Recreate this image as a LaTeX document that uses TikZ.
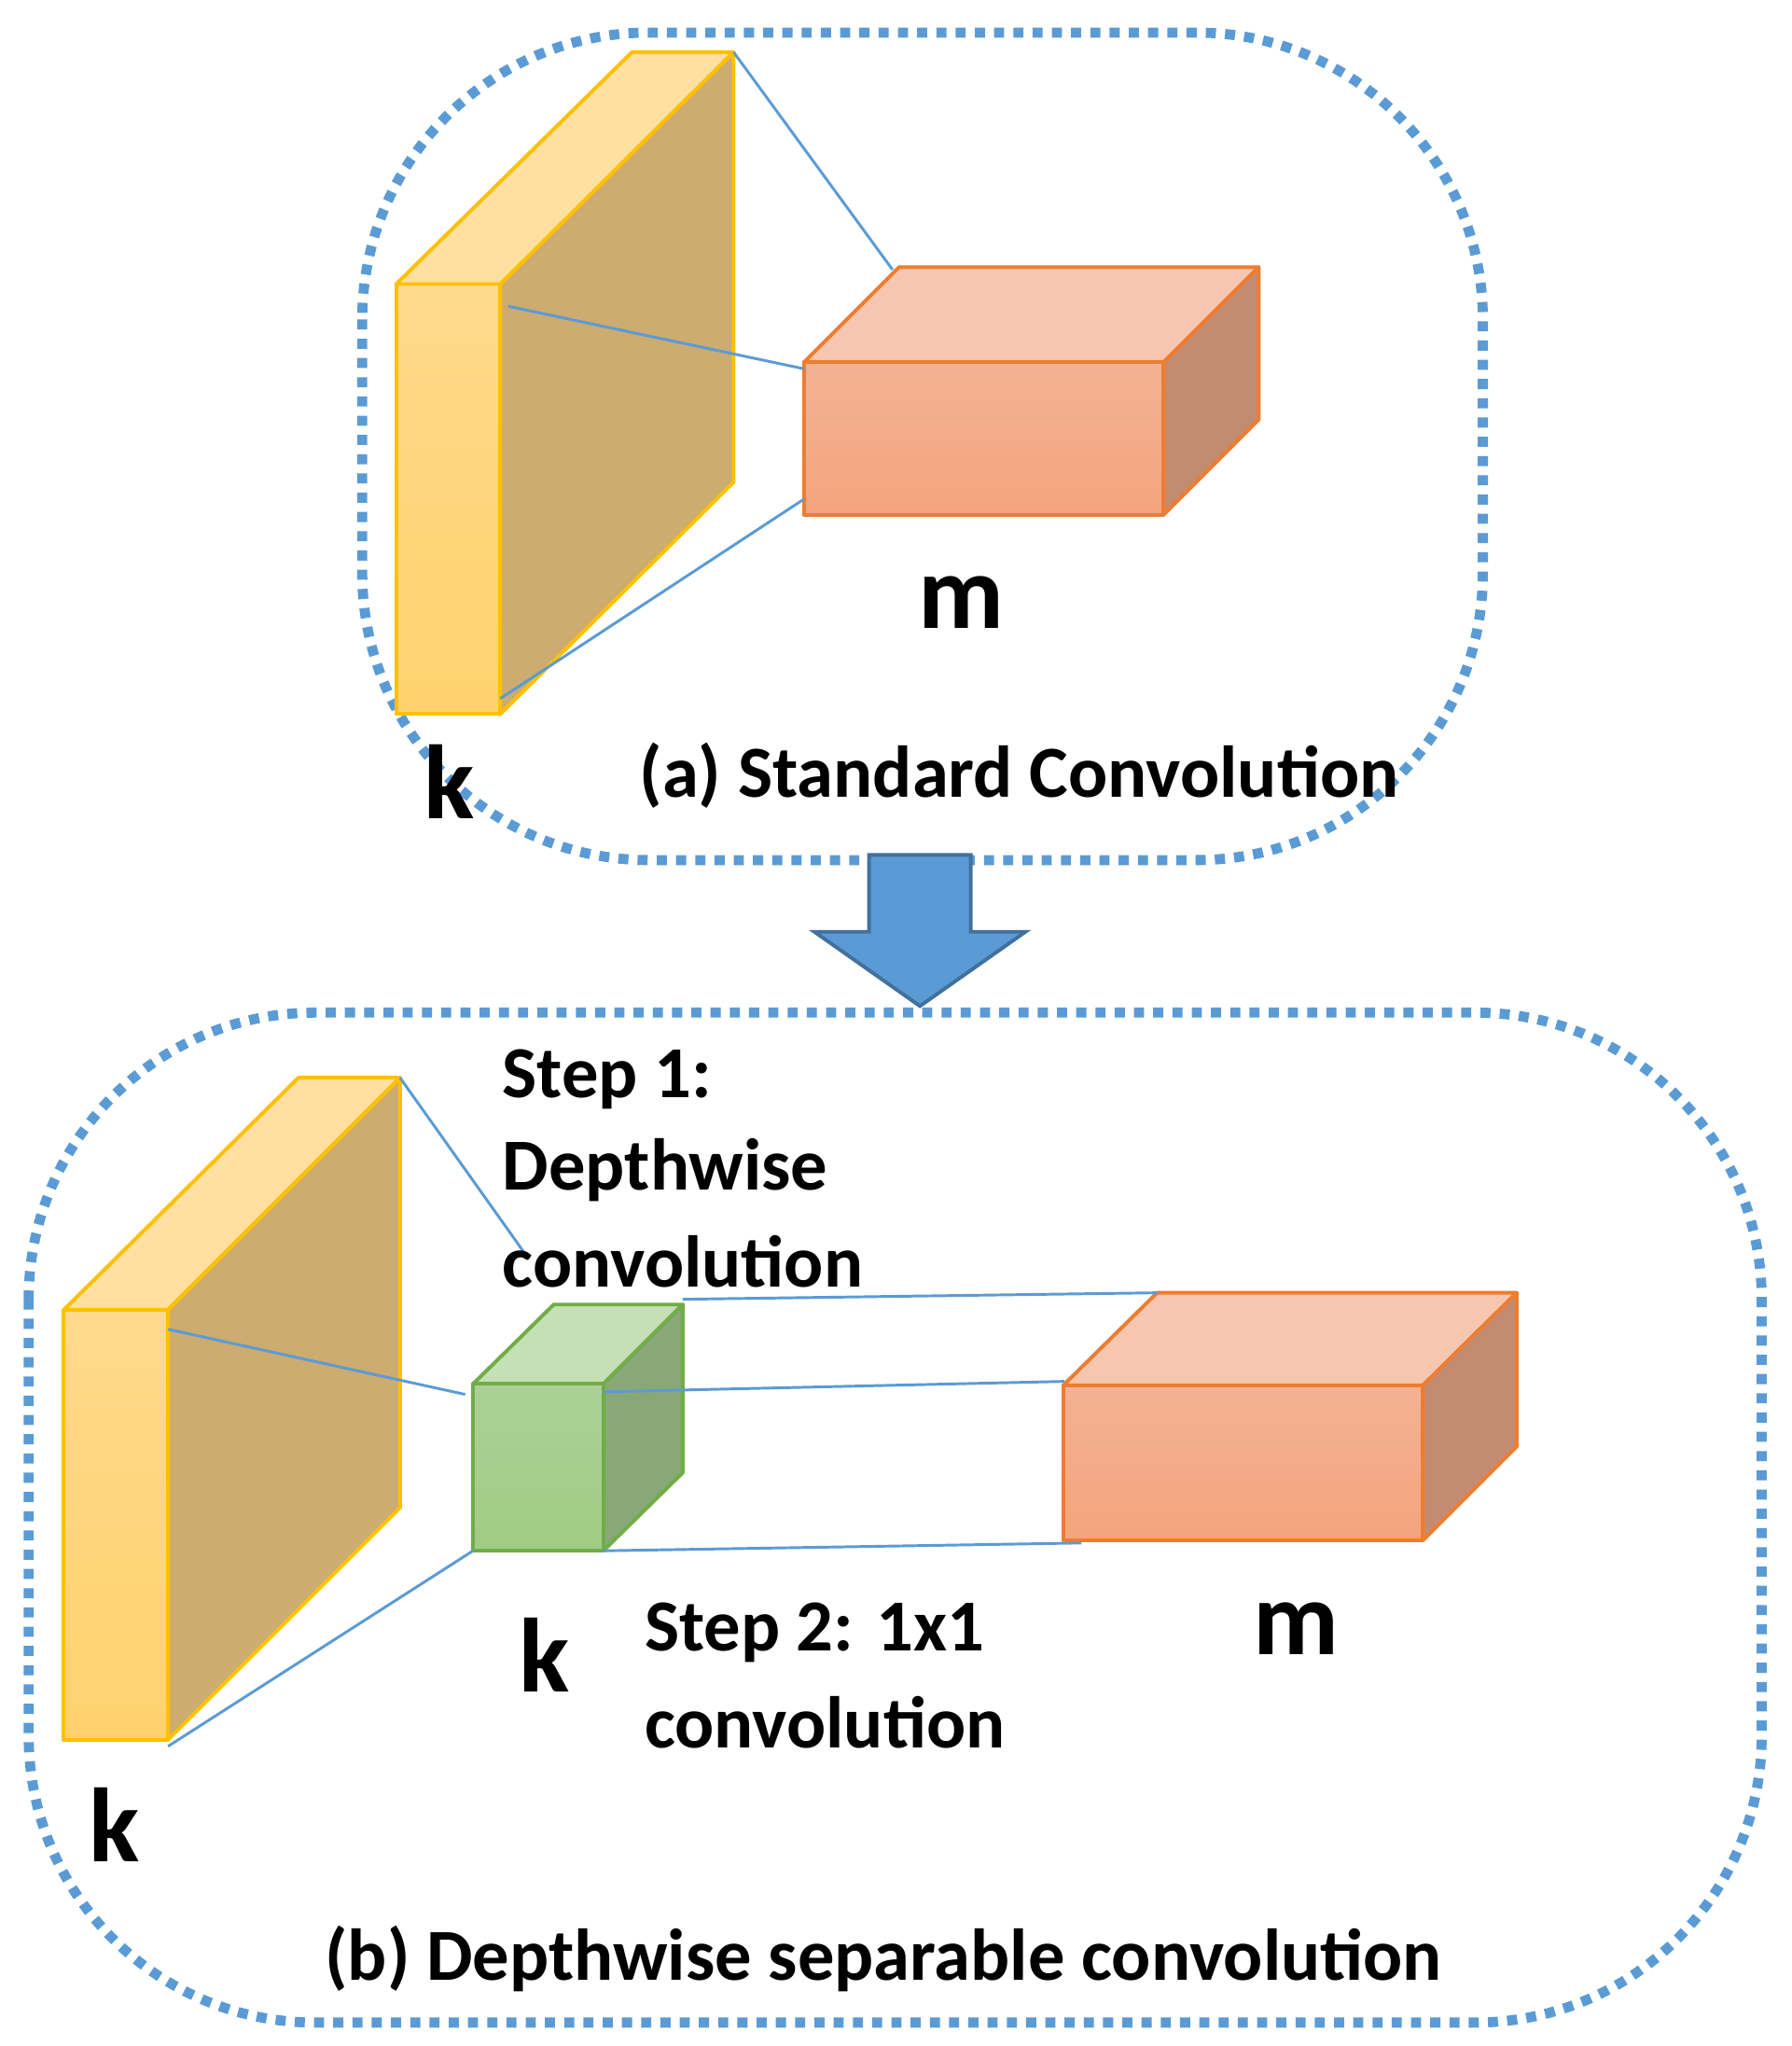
\documentclass[tikz,border=0pt]{standalone}
\usepackage{fontspec}
\setmainfont{Carlito}
\begin{document}
\begin{tikzpicture}[x=0.01cm,y=-0.01cm,
  frame/.style={draw=boxblue,line width=2.2pt,dotted,rounded corners=2.2cm},
  conn/.style={draw=boxblue,line width=0.6pt},
  ylw/.style={draw=ylwedge,line width=0.8pt,line join=round},
  org/.style={draw=orgedge,line width=0.8pt,line join=round},
  grn/.style={draw=grnedge,line width=0.8pt,line join=round},
  lbl/.style={font=\fontsize{16}{19}\selectfont\bfseries,inner sep=0pt},
  big/.style={font=\fontsize{23}{26}\selectfont\bfseries,inner sep=0pt}]
\definecolor{boxblue}{RGB}{91,155,213}
\definecolor{arrowedge}{RGB}{65,113,156}
\definecolor{ylwedge}{RGB}{255,192,0}
\definecolor{ylwtop}{RGB}{255,224,160}
\definecolor{ylwfrontA}{RGB}{255,217,140}
\definecolor{ylwfrontB}{RGB}{255,210,110}
\definecolor{ylwside}{RGB}{204,172,112}
\definecolor{orgedge}{RGB}{237,125,49}
\definecolor{orgtop}{RGB}{247,198,174}
\definecolor{orgfrontA}{RGB}{243,178,148}
\definecolor{orgfrontB}{RGB}{245,164,124}
\definecolor{orgside}{RGB}{196,139,115}
\definecolor{grnedge}{RGB}{112,173,71}
\definecolor{grntop}{RGB}{197,224,180}
\definecolor{grnfrontA}{RGB}{172,208,150}
\definecolor{grnfrontB}{RGB}{160,204,132}
\definecolor{grnside}{RGB}{136,168,120}
\useasboundingbox (0,0) rectangle (1375,1570);

% frames
\draw[frame] (278,25) rectangle (1138,660);
\draw[frame] (22,777) rectangle (1352,1552);

% ---- top: yellow slab
\path[ylw,fill=ylwtop] (304,218) -- (485,40) -- (563,40) -- (384,218) -- cycle;
\path[ylw,fill=ylwside] (384,218) -- (563,40) -- (563,370) -- (384,548) -- cycle;
\path[ylw,top color=ylwfrontA,bottom color=ylwfrontB] (304,218) rectangle (384,548);
% orange box
\path[org,fill=orgtop] (617,278) -- (690,205) -- (966,205) -- (893,278) -- cycle;
\path[org,fill=orgside] (893,278) -- (966,205) -- (966,322) -- (893,395) -- cycle;
\path[org,top color=orgfrontA,bottom color=orgfrontB] (617,278) rectangle (893,395);
\coordinate (y1a) at (563,40); \coordinate (o1a) at (685,207);
\coordinate (y1b) at (390,235); \coordinate (o1b) at (617,283);
\coordinate (y1c) at (384,536); \coordinate (o1c) at (617,383);
\draw[conn] (y1a) -- (o1a); \draw[conn] (y1b) -- (o1b); \draw[conn] (y1c) -- (o1c);
\node[big] (m1) at (738,462) {m};
\node[big] (k1) at (345,600) {k};
\node[lbl] (ta) at (782,595) {(a) Standard Convolution};

% arrow
\path[draw=arrowedge,fill=boxblue,line width=0.8pt,line join=miter]
 (667,656) -- (745,656) -- (745,715) -- (787,715) -- (706,772) -- (625,715) -- (667,715) -- cycle;

% ---- bottom: yellow slab
\path[ylw,fill=ylwtop] (49,1005) -- (229,827) -- (307,827) -- (129,1005) -- cycle;
\path[ylw,fill=ylwside] (129,1005) -- (307,827) -- (307,1157) -- (129,1335) -- cycle;
\path[ylw,top color=ylwfrontA,bottom color=ylwfrontB] (49,1005) rectangle (129,1335);
% green cube
\path[grn,fill=grntop] (363,1062) -- (425,1001) -- (524,1001) -- (463,1062) -- cycle;
\path[grn,fill=grnside] (463,1062) -- (524,1001) -- (524,1130) -- (463,1190) -- cycle;
\path[grn,top color=grnfrontA,bottom color=grnfrontB] (363,1062) rectangle (463,1190);
% orange box 2
\path[org,fill=orgtop] (816,1063) -- (888,992) -- (1164,992) -- (1092,1063) -- cycle;
\path[org,fill=orgside] (1092,1063) -- (1164,992) -- (1164,1110) -- (1092,1182) -- cycle;
\path[org,top color=orgfrontA,bottom color=orgfrontB] (816,1063) rectangle (1092,1182);
\coordinate (y2a) at (307,827); \coordinate (g2a) at (405,965);
\coordinate (y2b) at (129,1020); \coordinate (g2b) at (357,1070);
\coordinate (y2c) at (129,1340); \coordinate (g2c) at (363,1190);
\draw[conn] (y2a) -- (g2a); \draw[conn] (y2b) -- (g2b); \draw[conn] (y2c) -- (g2c);
\coordinate (g3a) at (524,997); \coordinate (o3a) at (888,992);
\coordinate (g3b) at (463,1068); \coordinate (o3b) at (817,1060);
\coordinate (g3c) at (463,1190); \coordinate (o3c) at (830,1184);
\draw[conn] (g3a) -- (o3a); \draw[conn] (g3b) -- (o3b); \draw[conn] (g3c) -- (o3c);

\node[lbl,anchor=west] (s1a) at (385,828) {Step 1:};
\node[lbl,anchor=west] (s1b) at (385,898) {Depthwise};
\node[lbl,anchor=west] (s1c) at (385,968) {convolution};
\node[big] (k2) at (418,1270) {k};
\node[lbl,anchor=west] (s2a) at (494,1253) {Step 2: 1x1};
\node[lbl,anchor=west] (s2b) at (494,1322) {convolution};
\node[big] (m2) at (995,1250) {m};
\node[big] (k3) at (88,1400) {k};
\node[lbl] (tb) at (678,1503) {(b) Depthwise separable convolution};
\end{tikzpicture}
\end{document}
